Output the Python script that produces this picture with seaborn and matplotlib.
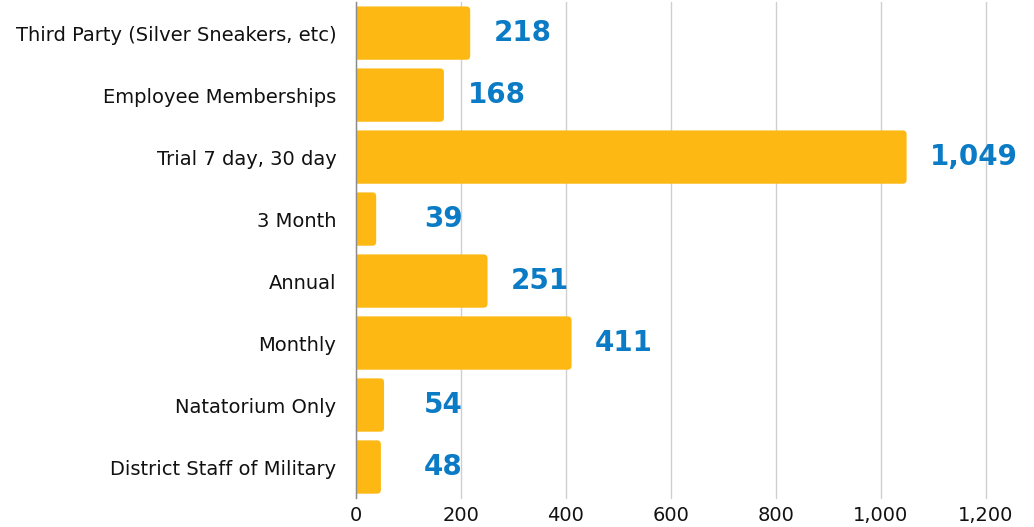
import matplotlib
matplotlib.use("Agg")
import matplotlib.pyplot as plt
from matplotlib.patches import FancyBboxPatch
from matplotlib.ticker import FuncFormatter
import pandas as pd
import seaborn as sns

categories = [
    "Third Party (Silver Sneakers, etc)",
    "Employee Memberships",
    "Trial 7 day, 30 day",
    "3 Month",
    "Annual",
    "Monthly",
    "Natatorium Only",
    "District Staff of Military",
]
counts = [218, 168, 1049, 39, 251, 411, 54, 48]
x_ticks = [0, 200, 400, 600, 800, 1000, 1200]

df = pd.DataFrame({"type": categories, "count": counts})

sns.set_theme(style="white")
plt.rcParams["font.family"] = ["DejaVu Sans"]

fig = plt.figure(figsize=(10.34, 5.27), dpi=100)
ax = fig.add_axes([0.344, 0.055, 0.6095, 0.941])

sns.barplot(data=df, x="count", y="type", orient="h", color="#FDB813",
            width=0.86, saturation=1, ax=ax)

# swap square bars for ones with rounded right corners
r = 7.5
for p in list(ax.patches):
    x0, y0, w, h = p.get_x(), p.get_y(), p.get_width(), p.get_height()
    p.remove()
    fb = FancyBboxPatch((x0 - 20, y0), w + 20, h,
                        boxstyle=f"round,pad=0,rounding_size={r}",
                        mutation_aspect=0.0085, fc="#FDB813", ec="none",
                        zorder=2)
    ax.add_patch(fb)

ax.set_xlim(0, 1200)
ax.set_ylim(len(categories) - 0.5, -0.5)
ax.set_xticks(x_ticks)
ax.xaxis.set_major_formatter(FuncFormatter(lambda v, _: f"{int(v):,}"))
ax.grid(axis="x", color="#CFCFCF", linewidth=1, zorder=0)
for gl in ax.get_xgridlines():
    gl.set_clip_on(False)
ax.set_axisbelow(True)
for s in ["top", "right", "bottom"]:
    ax.spines[s].set_visible(False)
ax.spines["left"].set_color("#8C8C8C")
ax.spines["left"].set_linewidth(1)
ax.spines["left"].set_zorder(3)
ax.tick_params(axis="both", length=0, labelsize=14, colors="#111111")
ax.tick_params(axis="y", pad=14)
ax.tick_params(axis="x", pad=6)
ax.set_xlabel("")
ax.set_ylabel("")

for i, v in enumerate(counts):
    ax.text(max(v, 85) + 45, i, f"{v:,}", ha="left", va="center",
            fontsize=20, fontweight="bold", color="#0A7BC4", clip_on=False)

fig.savefig("out.png", dpi=100)
